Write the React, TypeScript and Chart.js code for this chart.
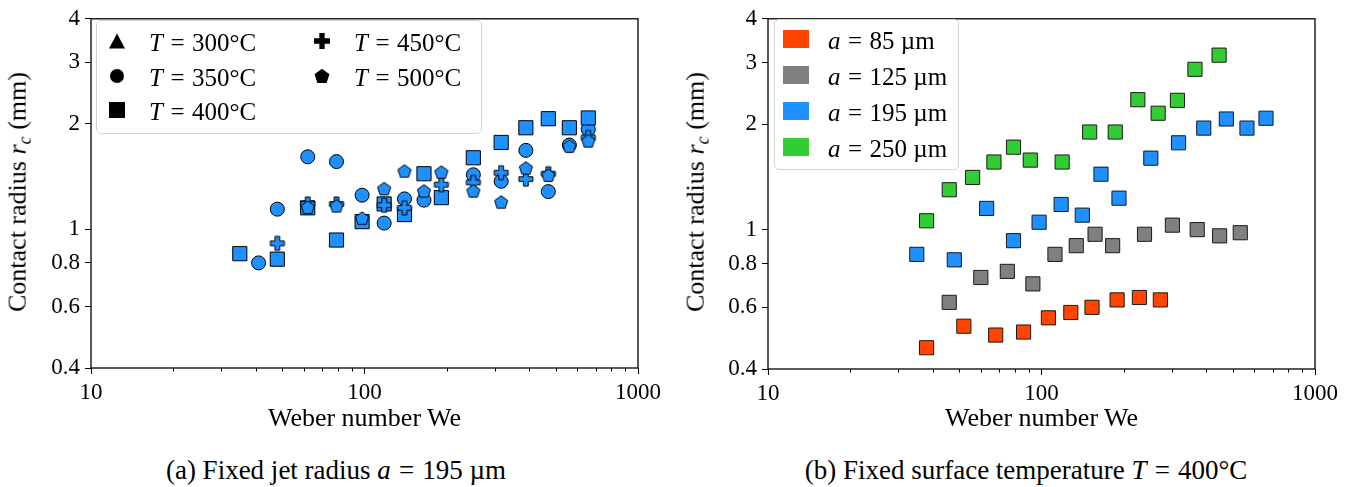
import React, { useEffect, useRef } from "react";
import { Chart, registerables } from "chart.js";

Chart.register(...registerables);

const SERIF = '"Liberation Serif", "Times New Roman", serif';

// ---- axes ----
const xTicks = [10, 100, 1000];
const xMinorTicks = [20, 30, 40, 50, 60, 70, 80, 90, 200, 300, 400, 500, 600, 700, 800, 900];
const yTicks = [0.4, 0.6, 0.8, 1, 2, 3, 4];

// ---- (a) fixed jet radius a = 195 µm ----
const weT300: number[] = [];
const rcT300: number[] = [];
const weT350 = [41, 48, 62, 79, 98, 118, 140, 165, 250, 316, 389, 470, 561, 658];
const rcT350 = [0.8, 1.14, 1.61, 1.56, 1.25, 1.04, 1.22, 1.21, 1.43, 1.37, 1.68, 1.28, 1.74, 1.93];
const weT400 = [35, 48, 62, 79, 98, 118, 140, 165, 191, 250, 316, 389, 470, 561, 658];
const rcT400 = [0.85, 0.82, 1.15, 0.93, 1.05, 1.18, 1.1, 1.44, 1.23, 1.6, 1.77, 1.95, 2.07, 1.95, 2.08];
const weT450 = [48, 62, 79, 118, 140, 191, 250, 316, 389, 470, 658];
const rcT450 = [0.91, 1.18, 1.18, 1.17, 1.15, 1.34, 1.36, 1.45, 1.39, 1.44, 1.83];
const weT500 = [62, 79, 98, 118, 140, 165, 191, 250, 316, 389, 470, 561, 658];
const rcT500 = [1.15, 1.16, 1.07, 1.3, 1.46, 1.28, 1.45, 1.28, 1.19, 1.49, 1.42, 1.72, 1.78];

// ---- (b) fixed surface temperature T = 400°C ----
const weA85 = [38, 52, 68, 86, 106, 128, 153, 189, 228, 272];
const rcA85 = [0.46, 0.53, 0.5, 0.51, 0.56, 0.58, 0.6, 0.63, 0.64, 0.63];
const weA125 = [46, 60, 75, 93, 112, 134, 157, 182, 238, 301, 371, 448, 533];
const rcA125 = [0.62, 0.73, 0.76, 0.7, 0.85, 0.9, 0.97, 0.9, 0.97, 1.03, 1.0, 0.96, 0.98];
const weA195 = [35, 48, 63, 79, 98, 118, 141, 165, 192, 251, 317, 392, 474, 564, 662];
const rcA195 = [0.85, 0.82, 1.15, 0.93, 1.05, 1.18, 1.1, 1.44, 1.23, 1.6, 1.77, 1.95, 2.07, 1.95, 2.08];
const weA250 = [38, 46, 56, 67, 79, 91, 119, 150, 186, 225, 267, 314, 364, 446];
const rcA250 = [1.06, 1.3, 1.41, 1.56, 1.72, 1.58, 1.56, 1.9, 1.9, 2.35, 2.15, 2.34, 2.87, 3.15];

const BLUE = "#1E90FF";
const ORANGE = "#FF4500";
const GRAY = "#808080";
const GREEN = "#32CD32";

const pts = (xs: number[], ys: number[]) => xs.map((x, i) => ({ x, y: ys[i] }));

function shapePath(ctx: CanvasRenderingContext2D, shape: string, cx: number, cy: number, h: number) {
  ctx.beginPath();
  if (shape === "plus") {
    const t = h / 3;
    const p = [[-t, -h], [t, -h], [t, -t], [h, -t], [h, t], [t, t], [t, h], [-t, h], [-t, t], [-h, t], [-h, -t], [-t, -t]];
    p.forEach(([x, y], i) => (i ? ctx.lineTo(cx + x, cy + y) : ctx.moveTo(cx + x, cy + y)));
  } else if (shape === "pentagon") {
    for (let k = 0; k < 5; k++) {
      const a = (-90 + 72 * k) * Math.PI / 180;
      const x = cx + h * Math.cos(a), y = cy + h * Math.sin(a);
      k ? ctx.lineTo(x, y) : ctx.moveTo(x, y);
    }
  } else if (shape === "triangle") {
    ctx.moveTo(cx, cy - h);
    ctx.lineTo(cx + h, cy + h * 0.85);
    ctx.lineTo(cx - h, cy + h * 0.85);
  }
  ctx.closePath();
}

function markerCanvas(shape: string, fill: string, h: number) {
  const dim = 20;
  const c = document.createElement("canvas");
  c.width = dim;
  c.height = dim;
  const ctx = c.getContext("2d")!;
  shapePath(ctx, shape, dim / 2, dim / 2, h);
  ctx.fillStyle = fill;
  ctx.fill();
  ctx.lineWidth = 1;
  ctx.strokeStyle = "#000";
  ctx.stroke();
  return c;
}

const framePlugin = {
  id: "frame",
  afterDraw(chart: any) {
    const { ctx, chartArea: a, scales } = chart;
    ctx.save();
    ctx.strokeStyle = "#000";
    ctx.lineWidth = 1.3;
    ctx.strokeRect(a.left, a.top, a.right - a.left, a.bottom - a.top);
    ctx.lineWidth = 1;
    xMinorTicks.forEach((v) => {
      const px = Math.round(scales.x.getPixelForValue(v)) + 0.5;
      ctx.beginPath();
      ctx.moveTo(px, a.bottom);
      ctx.lineTo(px, a.bottom + 3.5);
      ctx.stroke();
    });
    ctx.restore();
  },
};

function makeOptions(yWidth: number, xHeight: number, padRight: number, padTop: number) {
  const tickFont = { family: SERIF, size: 23 };
  return {
    responsive: false,
    maintainAspectRatio: false,
    animation: false as const,
    devicePixelRatio: 1,
    events: [],
    layout: { padding: { left: 0, right: padRight, top: padTop, bottom: 0 } },
    plugins: { legend: { display: false }, tooltip: { enabled: false } },
    scales: {
      x: {
        type: "logarithmic" as const,
        min: 10,
        max: 1000,
        afterBuildTicks: (s: any) => {
          s.ticks = xTicks.map((v) => ({ value: v }));
        },
        afterFit: (s: any) => {
          s.height = xHeight;
        },
        ticks: { callback: (v: any) => String(v), font: tickFont, color: "#000", padding: 5, maxRotation: 0, autoSkip: false },
        grid: { display: true, drawOnChartArea: false, drawTicks: true, tickLength: 6, color: "#000", lineWidth: 1 },
        border: { display: false },
      },
      y: {
        type: "logarithmic" as const,
        min: 0.4,
        max: 4,
        afterBuildTicks: (s: any) => {
          s.ticks = yTicks.map((v) => ({ value: v }));
        },
        afterFit: (s: any) => {
          s.width = yWidth;
        },
        ticks: { callback: (v: any) => String(v), font: tickFont, color: "#000", padding: 5, autoSkip: false },
        grid: { display: true, drawOnChartArea: false, drawTicks: true, tickLength: 6, color: "#000", lineWidth: 1 },
        border: { display: false },
      },
    },
  };
}

const abs = (left: number, top: number, extra: any = {}) => ({
  position: "absolute" as const,
  left,
  top,
  whiteSpace: "nowrap" as const,
  lineHeight: 1,
  fontFamily: SERIF,
  color: "#000",
  ...extra,
});

function LegendShape({ shape }: { shape: string }) {
  let el: any = null;
  if (shape === "triangle") el = <polygon points="0,-7.5 8,7.5 -8,7.5" fill="#000" />;
  else if (shape === "circle") el = <circle cx={0} cy={0} r={7} fill="#000" />;
  else if (shape === "square") el = <rect x={-8} y={-8} width={16} height={16} fill="#000" />;
  else if (shape === "plus") {
    const h = 8, t = 8 / 3;
    el = <polygon points={`${-t},${-h} ${t},${-h} ${t},${-t} ${h},${-t} ${h},${t} ${t},${t} ${t},${h} ${-t},${h} ${-t},${t} ${-h},${t} ${-h},${-t} ${-t},${-t}`} fill="#000" />;
  } else if (shape === "pentagon") {
    const p = [0, 1, 2, 3, 4].map((k) => {
      const a = (-90 + 72 * k) * Math.PI / 180;
      return `${(7.8 * Math.cos(a)).toFixed(2)},${(7.8 * Math.sin(a) + 0.6).toFixed(2)}`;
    });
    el = <polygon points={p.join(" ")} fill="#000" />;
  }
  return (
    <svg width={20} height={20} viewBox="-10 -10 20 20" style={{ display: "block" }}>
      {el}
    </svg>
  );
}

const legendA = [
  { shape: "triangle", label: "300", x: 117, y: 41 },
  { shape: "circle", label: "350", x: 117, y: 76 },
  { shape: "square", label: "400", x: 117, y: 110 },
  { shape: "plus", label: "450", x: 322, y: 41 },
  { shape: "pentagon", label: "500", x: 322, y: 76 },
];

const legendB = [
  { color: ORANGE, label: "85", y: 39 },
  { color: GRAY, label: "125", y: 75 },
  { color: BLUE, label: "195", y: 111 },
  { color: GREEN, label: "250", y: 147 },
];

const EQ = { margin: "0 0.3em" };

export default function App() {
  const refA = useRef<HTMLCanvasElement>(null);
  const refB = useRef<HTMLCanvasElement>(null);

  useEffect(() => {
    const tri = markerCanvas("triangle", BLUE, 7.5);
    const plus = markerCanvas("plus", BLUE, 7);
    const pent = markerCanvas("pentagon", BLUE, 6.9);
    const common = { showLine: false, borderColor: "#000", borderWidth: 1, backgroundColor: BLUE };
    const dsA = [
      { ...common, label: "T = 300°C", data: pts(weT300, rcT300), pointStyle: tri, pointRadius: 8, order: 5 },
      { ...common, label: "T = 350°C", data: pts(weT350, rcT350), pointStyle: "circle", pointRadius: 7, order: 4 },
      { ...common, label: "T = 400°C", data: pts(weT400, rcT400), pointStyle: "rect", pointRadius: 10, order: 3 },
      { ...common, label: "T = 450°C", data: pts(weT450, rcT450), pointStyle: plus, pointRadius: 7, order: 2 },
      { ...common, label: "T = 500°C", data: pts(weT500, rcT500), pointStyle: pent, pointRadius: 7, order: 1 },
    ];
    const sq = { showLine: false, borderColor: "#1a1a1a", borderWidth: 1, pointStyle: "rect", pointRadius: 10 };
    const dsB = [
      { ...sq, label: "a = 85 µm", data: pts(weA85, rcA85), backgroundColor: ORANGE, order: 4 },
      { ...sq, label: "a = 125 µm", data: pts(weA125, rcA125), backgroundColor: GRAY, order: 3 },
      { ...sq, label: "a = 195 µm", data: pts(weA195, rcA195), backgroundColor: BLUE, order: 2 },
      { ...sq, label: "a = 250 µm", data: pts(weA250, rcA250), backgroundColor: GREEN, order: 1 },
    ];
    const cA = new Chart(refA.current!, {
      type: "scatter",
      data: { datasets: dsA as any },
      options: makeOptions(91, 440 - 368, 680 - 638, 14) as any,
      plugins: [framePlugin],
    });
    const cB = new Chart(refB.current!, {
      type: "scatter",
      data: { datasets: dsB as any },
      options: makeOptions(88, 440 - 369, 1363 - 1315, 14) as any,
      plugins: [framePlugin],
    });
    return () => {
      cA.destroy();
      cB.destroy();
    };
  }, []);

  const center = { transform: "translate(-50%,-50%)" };
  const yTitleStyle = { transform: "translate(-50%,-50%) rotate(-90deg)", fontSize: 26 };
  const sub = { fontSize: "0.7em", verticalAlign: "-0.25em" };

  return (
    <div style={{ position: "fixed", left: 0, top: 0, width: 1363, height: 487, background: "#fff", overflow: "hidden" }}>
      <canvas ref={refA} width={680} height={440} style={{ position: "absolute", left: 0, top: 0, width: 680, height: 440 }} />
      <canvas ref={refB} width={683} height={440} style={{ position: "absolute", left: 680, top: 0, width: 683, height: 440 }} />

      {/* axis titles */}
      <div style={abs(19, 192, yTitleStyle)}>
        Contact radius <i>r<span style={sub}>c</span></i> (mm)
      </div>
      <div style={abs(697, 192, yTitleStyle)}>
        Contact radius <i>r<span style={sub}>c</span></i> (mm)
      </div>
      <div style={abs(364.5, 418, { ...center, fontSize: 26 })}>Weber number We</div>
      <div style={abs(1041.5, 418, { ...center, fontSize: 26 })}>Weber number We</div>

      {/* captions */}
      <div style={abs(336, 470, { ...center, fontSize: 27 })}>
        (a) Fixed jet radius <i>a</i>
        <span style={EQ}>=</span>195 µm
      </div>
      <div style={abs(1026, 470, { ...center, fontSize: 27 })}>
        (b) Fixed surface temperature <i>T</i>
        <span style={EQ}>=</span>400°C
      </div>

      {/* legend (a) */}
      <div style={{ position: "absolute", left: 96, top: 20, width: 386, height: 114, border: "1.5px solid #d4d4d4", borderRadius: 5, background: "rgba(255,255,255,0.8)", boxSizing: "border-box" }} />
      {legendA.map((e) => (
        <React.Fragment key={e.label}>
          <div style={{ position: "absolute", left: e.x - 10, top: e.y - 10 }}>
            <LegendShape shape={e.shape} />
          </div>
          <div style={abs(e.x + 32, e.y + 1, { transform: "translateY(-50%)", fontSize: 25 })}>
            <i>T</i>
            <span style={EQ}>=</span>
            {e.label}°C
          </div>
        </React.Fragment>
      ))}

      {/* legend (b) */}
      <div style={{ position: "absolute", left: 774, top: 19, width: 185, height: 151, border: "1.5px solid #d4d4d4", borderRadius: 5, background: "rgba(255,255,255,0.8)", boxSizing: "border-box" }} />
      {legendB.map((e) => (
        <React.Fragment key={e.label}>
          <div style={{ position: "absolute", left: 783, top: e.y - 9, width: 26, height: 18, background: e.color }} />
          <div style={abs(828, e.y + 1, { transform: "translateY(-50%)", fontSize: 25 })}>
            <i>a</i>
            <span style={EQ}>=</span>
            {e.label} µm
          </div>
        </React.Fragment>
      ))}
    </div>
  );
}
